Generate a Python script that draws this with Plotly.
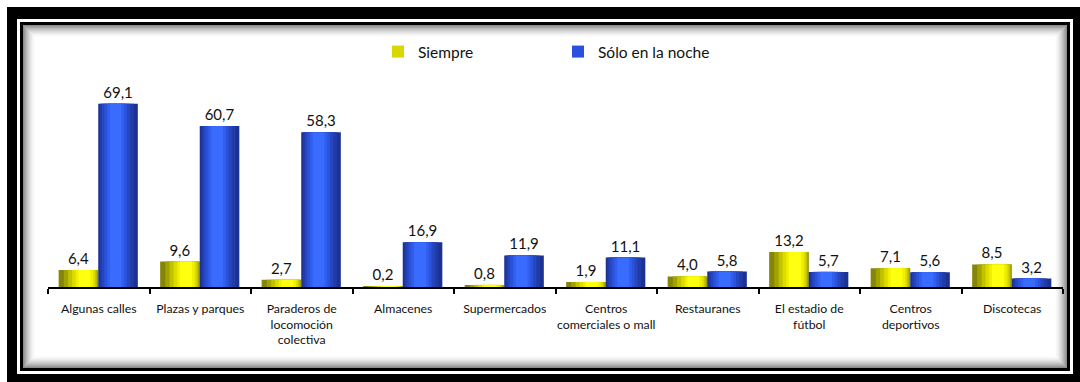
import plotly.graph_objects as go

categories = [
    "Algunas calles", "Plazas y parques", "Paraderos de<br>locomoción<br>colectiva",
    "Almacenes", "Supermercados", "Centros<br>comerciales o mall", "Restauranes",
    "El estadio de<br>fútbol", "Centros<br>deportivos", "Discotecas",
]
siempre = [6.4, 9.6, 2.7, 0.2, 0.8, 1.9, 4.0, 13.2, 7.1, 8.5]
solo_noche = [69.1, 60.7, 58.3, 16.9, 11.9, 11.1, 5.8, 5.7, 5.6, 3.2]
series_names = ["Siempre", "Sólo en la noche"]

W, H = 1080, 382
L, R, T, B = 48, 1063, 35, 287
YMAX = 95


def px(x):
    return (x - L) / (R - L)


def py(y):
    return (B - y) / (B - T)


def fmt(v):
    return f"{v:.1f}".replace(".", ",")


BAR_W = 0.39
# (width fraction, centre shift as fraction of bar width, colour)
yellow_layers = [
    (1.00, 0.00, "#85850a"),
    (0.86, 0.06, "#a3a300"),
    (0.72, 0.10, "#c2c200"),
    (0.58, 0.13, "#dcdc00"),
    (0.44, 0.15, "#f0f000"),
    (0.30, 0.15, "#ffff10"),
]
blue_layers = [
    (1.00, 0.00, "#1c3290"),
    (0.86, -0.03, "#213ca8"),
    (0.72, -0.05, "#2646c0"),
    (0.58, -0.06, "#2b52d8"),
    (0.44, -0.06, "#305eee"),
    (0.30, -0.06, "#3a6bff"),
]

fig = go.Figure()


def add_series(values, name, centre, layers, legend_color):
    for i, (f, s, c) in enumerate(layers):
        w = BAR_W * f
        off = centre + s * BAR_W - w / 2
        fig.add_trace(go.Bar(
            x=categories, y=values, name=name,
            width=w, offset=off,
            marker=dict(color=c, line=dict(width=0)),
            showlegend=False,
            text=[fmt(v) for v in values] if i == 0 else None,
            textposition="outside" if i == 0 else "none",
            textfont=dict(size=15, color="#111111", family="Lato"),
            cliponaxis=False,
            hoverinfo="skip",
        ))
    # legend proxy
    fig.add_trace(go.Bar(
        x=[categories[0]], y=[None], name=name,
        marker=dict(color=legend_color, line=dict(width=0)),
        showlegend=True, hoverinfo="skip",
    ))


add_series(siempre, series_names[0], -BAR_W / 2 - 0.005, yellow_layers, "#d8d800")
add_series(solo_noche, series_names[1], BAR_W / 2 - 0.005, blue_layers, "#2a50e0")

shapes = []


def rect(x0, y0, x1, y1, fill=None, line_color=None, lw=0):
    shapes.append(dict(
        type="rect", xref="paper", yref="paper", layer="below",
        x0=px(x0), x1=px(x1), y0=py(y1), y1=py(y0),
        fillcolor=fill if fill else "rgba(0,0,0,0)",
        line=dict(color=line_color if line_color else "rgba(0,0,0,0)", width=lw),
    ))


rect(7, 7, 1085, 390, fill="#000000")
rect(17, 19, 1073, 374, fill="#ffffff")
rect(20, 22, 1070, 371, fill="#000000")
rect(23, 25, 1067, 368, fill="#ffffff")
# inner shadow
n = 12
for i in range(n):
    a = 0.45 * (1 - i / n) ** 1.6
    rect(23 + i + 0.5, 25 + i + 0.5, 1067 - i - 0.5, 368 - i - 0.5,
         line_color=f"rgba(0,0,0,{a:.3f})", lw=1)

fig.update_layout(
    width=W, height=H,
    margin=dict(l=L, r=W - R, t=T, b=H - B, pad=0),
    paper_bgcolor="#ffffff",
    plot_bgcolor="rgba(0,0,0,0)",
    barmode="overlay",
    font=dict(family="Lato", color="#111111"),
    shapes=shapes,
    showlegend=True,
    legend=dict(
        orientation="h", x=px(378), y=py(52), xanchor="left", yanchor="middle",
        font=dict(size=15.5, family="Lato", color="#111111"),
        bgcolor="rgba(0,0,0,0)", entrywidth=135, entrywidthmode="pixels",
        itemwidth=30, traceorder="normal",
    ),
    xaxis=dict(
        showline=True, linecolor="#000000", linewidth=1.5,
        ticks="outside", ticklen=5, tickwidth=1.5, tickcolor="#000000",
        tickson="boundaries", showgrid=False, zeroline=False,
        tickangle=0, ticklabelstandoff=9,
        tickfont=dict(size=12.3, family="Lato", color="#111111"),
        fixedrange=True,
    ),
    yaxis=dict(
        range=[0, YMAX], visible=False, showgrid=False, zeroline=False,
    ),
)

fig.write_html("out.html")
